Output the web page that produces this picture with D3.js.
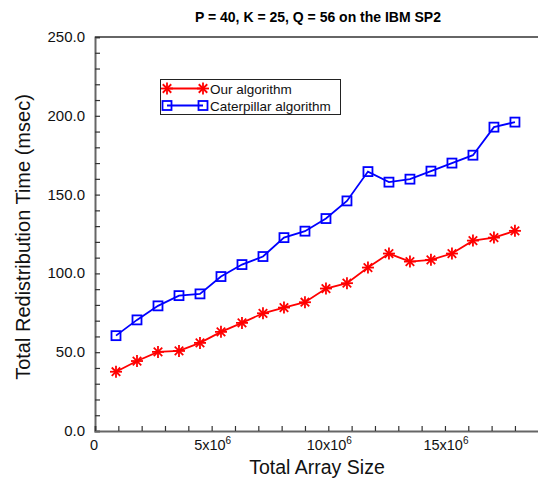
<!DOCTYPE html>
<html>
<head>
<meta charset="utf-8">
<script src="https://cdn.jsdelivr.net/npm/d3@7"></script>
<style>
  html, body { margin: 0; padding: 0; background: #fff; }
  svg { display: block; font-family: "Liberation Sans", Arial, sans-serif; }
</style>
</head>
<body>
<svg id="chart" width="538" height="483"></svg>
<script>
// Array sizes (elements) measured in the experiment
const arraySizes = [0.9e6, 1.8e6, 2.7e6, 3.6e6, 4.5e6, 5.4e6, 6.3e6, 7.2e6, 8.1e6, 9.0e6,
                    9.9e6, 10.8e6, 11.7e6, 12.6e6, 13.5e6, 14.4e6, 15.3e6, 16.2e6, 17.1e6, 18.0e6];
// Total redistribution time (msec)
const ourTimes = [37.6, 44.4, 50.2, 50.8, 55.9, 62.9, 68.6, 74.7, 78.3, 81.7,
                  90.4, 93.8, 103.7, 112.6, 107.5, 108.6, 112.6, 120.8, 122.7, 127.0];
const caterpillarTimes = [60.5, 70.5, 79.4, 85.9, 87.0, 98.0, 105.6, 110.7, 122.7, 126.8,
                          134.8, 146.0, 164.6, 157.9, 159.8, 164.9, 170.0, 175.0, 192.8, 196.0];
const seriesNames = ["Our algorithm", "Caterpillar algorithm"];
const yTickValues = [0, 50, 100, 150, 200, 250];
const xTickValues = [0, 5e6, 10e6, 15e6];

const svg = d3.select("#chart");
const plotLeft = 95, plotBottom = 431, plotTop = 37;

const x = d3.scaleLinear().domain([0, 20e6]).range([plotLeft, plotLeft + 20 * 23.33]);
const y = d3.scaleLinear().domain([0, 250]).range([plotBottom, plotTop]);

const axisColor = "#666";

// Title
svg.append("text")
  .attr("x", 318).attr("y", 22)
  .attr("text-anchor", "middle")
  .attr("font-size", 14).attr("font-weight", "bold")
  .text("P = 40, K = 25, Q = 56 on the IBM SP2");

// Frame: top edge
svg.append("line")
  .attr("x1", plotLeft).attr("x2", 538).attr("y1", plotTop).attr("y2", plotTop)
  .attr("stroke", "#333").attr("stroke-width", 1.5);

// Y axis
const yAxis = d3.axisLeft(y).tickValues(d3.range(0, 251, 10)).tickSize(-5).tickFormat("");
const gy = svg.append("g").attr("transform", `translate(${plotLeft},0)`).call(yAxis);
gy.select(".domain").attr("stroke", axisColor).attr("stroke-width", 2);
gy.selectAll(".tick line").attr("stroke", "#333").attr("stroke-width", 1.2);

svg.selectAll(".ylab").data(yTickValues).join("text")
  .attr("class", "ylab")
  .attr("x", 85).attr("y", d => y(d) + 5)
  .attr("text-anchor", "end").attr("font-size", 15).attr("fill", "#111")
  .text(d => d.toFixed(1));

// X axis
const xAxis = d3.axisBottom(x).tickValues(d3.range(0, 19e6 + 1, 1e6)).tickSize(-5).tickFormat("");
const gx = svg.append("g").attr("transform", `translate(0,${plotBottom})`).call(xAxis);
gx.select(".domain").attr("stroke", axisColor).attr("stroke-width", 2);
gx.selectAll(".tick line").attr("stroke", "#333").attr("stroke-width", 1.2);

const xl = svg.selectAll(".xlab").data(xTickValues).join("text")
  .attr("class", "xlab")
  .attr("x", d => x(d)).attr("y", 450)
  .attr("text-anchor", "middle").attr("font-size", 14.5).attr("fill", "#111");
xl.each(function(d) {
  const t = d3.select(this);
  if (d === 0) { t.text("0"); return; }
  t.append("tspan").text((d / 1e6) + "x10");
  t.append("tspan").attr("dy", -6).attr("font-size", 10).text("6");
});
xl.attr("dx", d => d === 0 ? -1 : 1);

// Axis titles
svg.append("text")
  .attr("x", 317).attr("y", 474)
  .attr("text-anchor", "middle").attr("font-size", 19.5).attr("fill", "#111")
  .text("Total Array Size");
svg.append("text")
  .attr("transform", `translate(30,${(plotTop + plotBottom) / 2 + 3}) rotate(-90)`)
  .attr("text-anchor", "middle").attr("font-size", 20).attr("fill", "#111")
  .text("Total Redistribution Time (msec)");

// Marker drawing helpers
function star(g, cx, cy, color) {
  const r = 6;
  [0, 45, 90, 135].forEach(a => {
    const rad = a * Math.PI / 180;
    g.append("line")
      .attr("x1", cx - r * Math.cos(rad)).attr("y1", cy - r * Math.sin(rad))
      .attr("x2", cx + r * Math.cos(rad)).attr("y2", cy + r * Math.sin(rad))
      .attr("stroke", color).attr("stroke-width", 1.8);
  });
}
function square(g, cx, cy, color) {
  g.append("rect")
    .attr("x", cx - 4.5).attr("y", cy - 4.5).attr("width", 9).attr("height", 9)
    .attr("fill", "none").attr("stroke", color).attr("stroke-width", 1.8);
}

const line = d3.line().x(d => x(d[0])).y(d => y(d[1]));
const series = [
  { name: seriesNames[0], values: ourTimes, color: "#ff0000", marker: star },
  { name: seriesNames[1], values: caterpillarTimes, color: "#0000ff", marker: square }
];

series.slice().reverse().forEach(s => {
  const pts = arraySizes.map((v, i) => [v, s.values[i]]);
  const g = svg.append("g");
  g.append("path").datum(pts).attr("d", line)
    .attr("fill", "none").attr("stroke", s.color).attr("stroke-width", 1.8);
  pts.forEach(p => s.marker(g, x(p[0]), y(p[1]), s.color));
});

// Legend
const lg = svg.append("g");
lg.append("rect").attr("x", 160.5).attr("y", 79.5).attr("width", 180).attr("height", 35)
  .attr("fill", "#fff").attr("stroke", "#222").attr("stroke-width", 1);
series.forEach((s, i) => {
  const ly = 88.5 + i * 17;
  lg.append("line").attr("x1", 167).attr("x2", 203).attr("y1", ly).attr("y2", ly)
    .attr("stroke", s.color).attr("stroke-width", 1.8);
  s.marker(lg, 167, ly, s.color);
  s.marker(lg, 203, ly, s.color);
  lg.append("text").attr("x", 210).attr("y", ly + 5)
    .attr("font-size", 13.5).attr("fill", "#111").text(s.name);
});
</script>
</body>
</html>
